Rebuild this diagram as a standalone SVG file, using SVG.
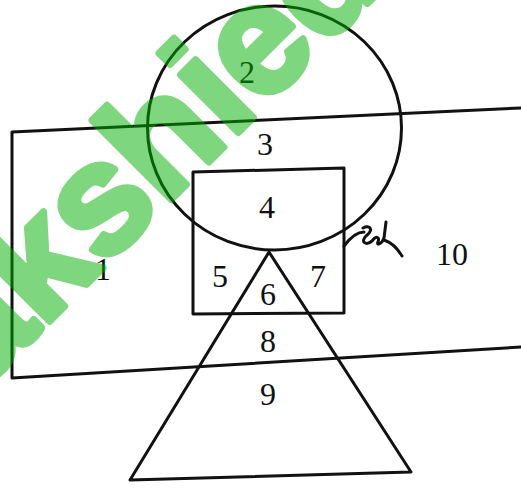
<svg xmlns="http://www.w3.org/2000/svg" width="521" height="489" viewBox="0 0 521 489">
<style>
.ln{fill:none;stroke:#111;stroke-width:3;stroke-linejoin:round;stroke-linecap:round}
.lb{font-family:"Liberation Serif","Times New Roman",serif;font-size:32px;fill:#111;text-anchor:middle}
.wm{font-family:"Liberation Sans",Arial,sans-serif;font-weight:bold;font-size:155px;fill:#00b000;stroke:#00b000;stroke-width:7;stroke-linejoin:round;opacity:0.5}
</style>
<rect width="521" height="489" fill="#fff"/>
<g id="shapes">
<g id="outer-rect"><path class="ln" d="M521,108 L12,132 L12,378 L521,347"/></g>
<g id="circle"><ellipse class="ln" cx="274.5" cy="128" rx="127" ry="122"/></g>
<g id="inner-rect"><path class="ln" d="M193,172 L344,168 L344,313 L193,314 Z"/></g>
<g id="triangle"><path class="ln" d="M269,252 L130,480 L411,472 Z"/></g>
</g>
<g id="connectors">
<path class="ln" stroke-width="2" d="M344,246 C350,238 356,232 364,232"/>
<path class="ln" stroke-width="2" d="M363,228 C370,224 374,230 366,236 C360,242 366,246 372,241 C376,236 380,236 378,242 C376,246 382,244 384,238 L386,222 M384,240 C390,242 396,246 402,256"/>
</g>
<g id="labels">
<text class="lb" x="103" y="280">1</text>
<text class="lb" x="247" y="83">2</text>
<text class="lb" x="265" y="155">3</text>
<text class="lb" x="267" y="218">4</text>
<text class="lb" x="220" y="287">5</text>
<text class="lb" x="268" y="305">6</text>
<text class="lb" x="318" y="287">7</text>
<text class="lb" x="268" y="352">8</text>
<text class="lb" x="268" y="405">9</text>
<text class="lb" x="452" y="265">10</text>
</g>
<text class="wm" transform="translate(-19,390) rotate(-45)">akshied</text>
</svg>
